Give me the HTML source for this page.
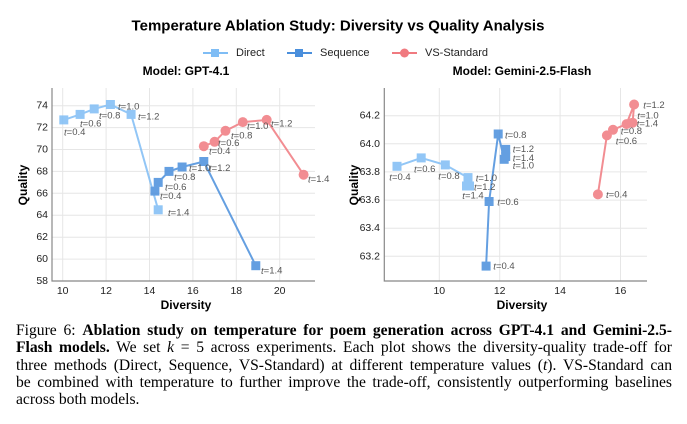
<!DOCTYPE html>
<html><head><meta charset="utf-8"><style>
body{margin:0;background:#fff;width:687px;height:424px;overflow:hidden;position:relative}
svg{position:absolute;left:0;top:0}
.cap{position:absolute;left:16px;width:656px;font-family:"Liberation Serif",serif;font-size:15.6px;line-height:17.3px;top:322px;color:#000}
.cap div{text-align:justify;text-align-last:justify;white-space:nowrap}
.cap div.last{text-align-last:left}
</style></head><body>
<svg width="687" height="320" font-family="Liberation Sans, sans-serif">
<text x="338" y="26" text-anchor="middle" dominant-baseline="central" font-weight="bold" font-size="15">Temperature Ablation Study: Diversity vs Quality Analysis</text>
<!-- legend -->
<g font-size="11" fill="#222" dominant-baseline="central">
<line x1="203" y1="53" x2="228" y2="53" stroke="#7fbdf5" stroke-width="2"/><rect x="211" y="49" width="8" height="8" fill="#7fbdf5"/><text x="236" y="53">Direct</text>
<line x1="287" y1="53" x2="312" y2="53" stroke="#4a8fdc" stroke-width="2"/><rect x="295" y="49" width="8" height="8" fill="#4a8fdc"/><text x="320" y="53">Sequence</text>
<line x1="392" y1="53" x2="417" y2="53" stroke="#f07a80" stroke-width="2"/><circle cx="404.5" cy="53" r="4.5" fill="#f07a80"/><text x="425" y="53">VS-Standard</text>
</g>
<g font-weight="bold" font-size="12" text-anchor="middle" dominant-baseline="central">
<text x="186" y="71">Model: GPT-4.1</text>
<text x="522" y="71">Model: Gemini-2.5-Flash</text>
<text x="186" y="305">Diversity</text>
<text x="522" y="305">Diversity</text>
<text transform="translate(23,185) rotate(-90)">Quality</text>
<text transform="translate(354,185) rotate(-90)">Quality</text>
</g>
<!-- left grid -->
<g stroke="#e6e6e6" stroke-width="1">
<line x1="62.7" y1="88" x2="62.7" y2="281"/><line x1="106.1" y1="88" x2="106.1" y2="281"/><line x1="149.5" y1="88" x2="149.5" y2="281"/><line x1="192.9" y1="88" x2="192.9" y2="281"/><line x1="236.3" y1="88" x2="236.3" y2="281"/><line x1="279.7" y1="88" x2="279.7" y2="281"/>
<line x1="52" y1="259.1" x2="315" y2="259.1"/><line x1="52" y1="237.2" x2="315" y2="237.2"/><line x1="52" y1="215.2" x2="315" y2="215.2"/><line x1="52" y1="193.3" x2="315" y2="193.3"/><line x1="52" y1="171.4" x2="315" y2="171.4"/><line x1="52" y1="149.5" x2="315" y2="149.5"/><line x1="52" y1="127.6" x2="315" y2="127.6"/><line x1="52" y1="105.7" x2="315" y2="105.7"/>
</g>
<path d="M52,88V281H315" fill="none" stroke="#888" stroke-width="1.2"/>
<g font-size="10.5" fill="#222" text-anchor="end" dominant-baseline="central">
<text x="48" y="281">58</text><text x="48" y="259.1">60</text><text x="48" y="237.2">62</text><text x="48" y="215.2">64</text><text x="48" y="193.3">66</text><text x="48" y="171.4">68</text><text x="48" y="149.5">70</text><text x="48" y="127.6">72</text><text x="48" y="105.7">74</text>
</g>
<g font-size="10.5" fill="#222" text-anchor="middle">
<text x="62.7" y="294">10</text><text x="106.1" y="294">12</text><text x="149.5" y="294">14</text><text x="192.9" y="294">16</text><text x="236.3" y="294">18</text><text x="279.7" y="294">20</text>
</g>
<!-- left series -->
<g opacity="0.85">
<polyline points="63.8,119.9 80.1,114.4 94.2,108.9 110.4,104.5 131.1,114.4 158.2,209.8" fill="none" stroke="#7fbdf5" stroke-width="2"/>
<g fill="#7fbdf5"><rect x="59.3" y="115.4" width="9" height="9"/><rect x="75.6" y="109.9" width="9" height="9"/><rect x="89.7" y="104.4" width="9" height="9"/><rect x="105.9" y="100" width="9" height="9"/><rect x="126.6" y="109.9" width="9" height="9"/><rect x="153.7" y="205.3" width="9" height="9"/></g>
<polyline points="154.9,191.1 158.2,182.4 169,171.4 182.1,167 203.8,161.5 255.8,265.7" fill="none" stroke="#4a8fdc" stroke-width="2"/>
<g fill="#4a8fdc"><rect x="150.4" y="186.6" width="9" height="9"/><rect x="153.7" y="177.9" width="9" height="9"/><rect x="164.5" y="166.9" width="9" height="9"/><rect x="177.6" y="162.5" width="9" height="9"/><rect x="199.3" y="157" width="9" height="9"/><rect x="251.3" y="261.2" width="9" height="9"/></g>
<polyline points="203.8,146.2 214.6,141.8 225.5,130.8 242.8,122.1 266.7,119.9 303.6,174.7" fill="none" stroke="#f07a80" stroke-width="2"/>
<g fill="#f07a80"><circle cx="203.8" cy="146.2" r="5"/><circle cx="214.6" cy="141.8" r="5"/><circle cx="225.5" cy="130.8" r="5"/><circle cx="242.8" cy="122.1" r="5"/><circle cx="266.7" cy="119.9" r="5"/><circle cx="303.6" cy="174.7" r="5"/></g>
</g>
<g font-size="9.5" fill="#555" dominant-baseline="central">
<text x="64" y="132.7"><tspan font-style="italic">t</tspan>=0.4</text><text x="80" y="124"><tspan font-style="italic">t</tspan>=0.6</text><text x="99" y="116"><tspan font-style="italic">t</tspan>=0.8</text><text x="118" y="107"><tspan font-style="italic">t</tspan>=1.0</text><text x="138" y="117"><tspan font-style="italic">t</tspan>=1.2</text><text x="168" y="213"><tspan font-style="italic">t</tspan>=1.4</text>
<text x="160" y="196.7"><tspan font-style="italic">t</tspan>=0.4</text><text x="165" y="187.3"><tspan font-style="italic">t</tspan>=0.6</text><text x="174" y="177.3"><tspan font-style="italic">t</tspan>=0.8</text><text x="189" y="168.3"><tspan font-style="italic">t</tspan>=1.0</text><text x="209" y="168.3"><tspan font-style="italic">t</tspan>=1.2</text><text x="261" y="271"><tspan font-style="italic">t</tspan>=1.4</text>
<text x="209" y="151.3"><tspan font-style="italic">t</tspan>=0.4</text><text x="218" y="143.3"><tspan font-style="italic">t</tspan>=0.6</text><text x="231" y="136"><tspan font-style="italic">t</tspan>=0.8</text><text x="247" y="126.7"><tspan font-style="italic">t</tspan>=1.0</text><text x="271" y="124"><tspan font-style="italic">t</tspan>=1.2</text><text x="308" y="179.3"><tspan font-style="italic">t</tspan>=1.4</text>
</g>
<!-- right grid -->
<g stroke="#e6e6e6" stroke-width="1">
<line x1="439.3" y1="88" x2="439.3" y2="281"/><line x1="499.7" y1="88" x2="499.7" y2="281"/><line x1="560.1" y1="88" x2="560.1" y2="281"/><line x1="620.5" y1="88" x2="620.5" y2="281"/>
<line x1="384" y1="256.3" x2="647" y2="256.3"/><line x1="384" y1="228.2" x2="647" y2="228.2"/><line x1="384" y1="200.1" x2="647" y2="200.1"/><line x1="384" y1="171.9" x2="647" y2="171.9"/><line x1="384" y1="143.8" x2="647" y2="143.8"/><line x1="384" y1="115.7" x2="647" y2="115.7"/>
</g>
<path d="M384.3,88V281H647" fill="none" stroke="#888" stroke-width="1.2"/>
<g font-size="10.5" fill="#222" text-anchor="end" dominant-baseline="central">
<text x="380" y="256.3">63.2</text><text x="380" y="228.2">63.4</text><text x="380" y="200.1">63.6</text><text x="380" y="171.9">63.8</text><text x="380" y="143.8">64.0</text><text x="380" y="115.7">64.2</text>
</g>
<g font-size="10.5" fill="#222" text-anchor="middle">
<text x="439.3" y="294">10</text><text x="499.7" y="294">12</text><text x="560.1" y="294">14</text><text x="620.5" y="294">16</text>
</g>
<g opacity="0.85">
<polyline points="397,166.3 421.2,157.9 445.3,164.9 468,177.6 469.5,186 466.5,186" fill="none" stroke="#7fbdf5" stroke-width="2"/>
<g fill="#7fbdf5"><rect x="392.5" y="161.8" width="9" height="9"/><rect x="416.7" y="153.4" width="9" height="9"/><rect x="440.8" y="160.4" width="9" height="9"/><rect x="463.5" y="173.1" width="9" height="9"/><rect x="465" y="181.5" width="9" height="9"/><rect x="462" y="181.5" width="9" height="9"/></g>
<polyline points="486.1,266.1 489.1,201.5 498.2,134 504.2,159.3 505.7,149.4 505.7,156.5" fill="none" stroke="#4a8fdc" stroke-width="2"/>
<g fill="#4a8fdc"><rect x="481.6" y="261.6" width="9" height="9"/><rect x="484.6" y="197" width="9" height="9"/><rect x="493.7" y="129.5" width="9" height="9"/><rect x="499.7" y="154.8" width="9" height="9"/><rect x="501.2" y="144.9" width="9" height="9"/><rect x="501.2" y="152" width="9" height="9"/></g>
<polyline points="597.9,194.4 606.9,135.4 613,129.8 626.5,124.1 634.1,104.5 632.6,122.7" fill="none" stroke="#f07a80" stroke-width="2"/>
<g fill="#f07a80"><circle cx="597.9" cy="194.4" r="5"/><circle cx="606.9" cy="135.4" r="5"/><circle cx="613" cy="129.8" r="5"/><circle cx="626.5" cy="124.1" r="5"/><circle cx="634.1" cy="104.5" r="5"/><circle cx="632.6" cy="122.7" r="5"/></g>
</g>
<g font-size="9.5" fill="#555" dominant-baseline="central">
<text x="389.3" y="177.3"><tspan font-style="italic">t</tspan>=0.4</text><text x="414" y="169.3"><tspan font-style="italic">t</tspan>=0.6</text><text x="438.3" y="176.7"><tspan font-style="italic">t</tspan>=0.8</text><text x="475.7" y="178.3"><tspan font-style="italic">t</tspan>=1.0</text><text x="474" y="187.3"><tspan font-style="italic">t</tspan>=1.2</text><text x="462.3" y="196"><tspan font-style="italic">t</tspan>=1.4</text>
<text x="493.3" y="266.7"><tspan font-style="italic">t</tspan>=0.4</text><text x="497.3" y="202.7"><tspan font-style="italic">t</tspan>=0.6</text><text x="505" y="135.3"><tspan font-style="italic">t</tspan>=0.8</text><text x="512.7" y="149.3"><tspan font-style="italic">t</tspan>=1.2</text><text x="512.7" y="158.3"><tspan font-style="italic">t</tspan>=1.4</text><text x="512.7" y="166"><tspan font-style="italic">t</tspan>=1.0</text>
<text x="606" y="195"><tspan font-style="italic">t</tspan>=0.4</text><text x="615.7" y="141.7"><tspan font-style="italic">t</tspan>=0.6</text><text x="620.7" y="131.3"><tspan font-style="italic">t</tspan>=0.8</text><text x="637.3" y="116"><tspan font-style="italic">t</tspan>=1.0</text><text x="636.7" y="124"><tspan font-style="italic">t</tspan>=1.4</text><text x="643.3" y="105.7"><tspan font-style="italic">t</tspan>=1.2</text>
</g>
</svg>
<div class="cap">
<div>Figure 6: <b>Ablation study on temperature for poem generation across GPT-4.1 and Gemini-2.5-</b></div>
<div><b>Flash models.</b> We set <i>k</i> = 5 across experiments. Each plot shows the diversity-quality trade-off for</div>
<div>three methods (Direct, Sequence, VS-Standard) at different temperature values (<i>t</i>). VS-Standard can</div>
<div>be combined with temperature to further improve the trade-off, consistently outperforming baselines</div>
<div class="last">across both models.</div>
</div>
</body></html>
